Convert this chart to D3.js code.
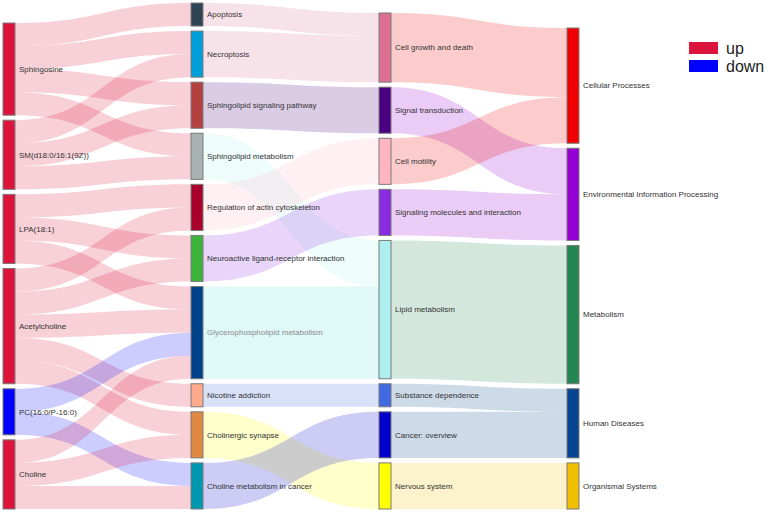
<!DOCTYPE html>
<html><head><meta charset="utf-8">
<script src="https://cdn.jsdelivr.net/npm/d3@7"></script>
<style>body{margin:0;background:#fff}svg{display:block}</style>
</head><body>
<svg id="chart" width="767" height="513"></svg>
<script>
// ---------- data ----------
const metabolites = ["Sphingosine","SM(d18:0/16:1(9Z))","LPA(18:1)","Acetylcholine","PC(16:0/P-16:0)","Choline"];
const regulation = ["up","up","up","up","down","up"];
const pathways = ["Apoptosis","Necroptosis","Sphingolipid signaling pathway","Sphingolipid metabolism","Regulation of actin cytoskeleton","Neuroactive ligand-receptor interaction","Glycerophospholipid metabolism","Nicotine addiction","Cholinergic synapse","Choline metabolism in cancer"];
const subcategories = ["Cell growth and death","Signal transduction","Cell motility","Signaling molecules and interaction","Lipid metabolism","Substance dependence","Cancer: overview","Nervous system"];
const categories = ["Cellular Processes","Environmental Information Processing","Metabolism","Human Diseases","Organismal Systems"];
const legendLabels = ["up","down"];

const metaboliteLinks = [
 ["Sphingosine","Apoptosis",1],["Sphingosine","Necroptosis",1],["Sphingosine","Sphingolipid signaling pathway",1],["Sphingosine","Sphingolipid metabolism",1],
 ["SM(d18:0/16:1(9Z))","Necroptosis",1],["SM(d18:0/16:1(9Z))","Sphingolipid signaling pathway",1],["SM(d18:0/16:1(9Z))","Sphingolipid metabolism",1],
 ["LPA(18:1)","Regulation of actin cytoskeleton",1],["LPA(18:1)","Neuroactive ligand-receptor interaction",1],["LPA(18:1)","Glycerophospholipid metabolism",1],
 ["Acetylcholine","Regulation of actin cytoskeleton",1],["Acetylcholine","Neuroactive ligand-receptor interaction",1],["Acetylcholine","Glycerophospholipid metabolism",1],["Acetylcholine","Nicotine addiction",1],["Acetylcholine","Cholinergic synapse",1],
 ["PC(16:0/P-16:0)","Glycerophospholipid metabolism",1],["PC(16:0/P-16:0)","Choline metabolism in cancer",1],
 ["Choline","Glycerophospholipid metabolism",1],["Choline","Cholinergic synapse",1],["Choline","Choline metabolism in cancer",1]
];
const pathwayLinks = [
 ["Apoptosis","Cell growth and death",1],["Necroptosis","Cell growth and death",2],
 ["Sphingolipid signaling pathway","Signal transduction",2],["Sphingolipid metabolism","Lipid metabolism",2],
 ["Regulation of actin cytoskeleton","Cell motility",2],["Neuroactive ligand-receptor interaction","Signaling molecules and interaction",2],
 ["Glycerophospholipid metabolism","Lipid metabolism",4],["Nicotine addiction","Substance dependence",1],
 ["Cholinergic synapse","Nervous system",2],["Choline metabolism in cancer","Cancer: overview",2]
];
const subcategoryLinks = [
 ["Cell growth and death","Cellular Processes",3],["Signal transduction","Environmental Information Processing",2],
 ["Cell motility","Cellular Processes",2],["Signaling molecules and interaction","Environmental Information Processing",2],
 ["Lipid metabolism","Metabolism",6],["Substance dependence","Human Diseases",1],
 ["Cancer: overview","Human Diseases",2],["Nervous system","Organismal Systems",2]
];

// ---------- styles ----------
const regColor = {up:"#DC143C", down:"#0000FF"};
const nodeColor = {
 "Apoptosis":"#2F4554","Necroptosis":"#009FDB","Sphingolipid signaling pathway":"#B3413F","Sphingolipid metabolism":"#A9B2B2",
 "Regulation of actin cytoskeleton":"#A8002A","Neuroactive ligand-receptor interaction":"#3CB43C","Glycerophospholipid metabolism":"#00428A",
 "Nicotine addiction":"#FFAA8A","Cholinergic synapse":"#DE8A43","Choline metabolism in cancer":"#0098AF",
 "Cell growth and death":"#DB7093","Signal transduction":"#4B0082","Cell motility":"#FFB6C1","Signaling molecules and interaction":"#8A2BE2",
 "Lipid metabolism":"#AFEEEE","Substance dependence":"#4169E1","Cancer: overview":"#0000CD","Nervous system":"#FFFF00",
 "Cellular Processes":"#F00000","Environmental Information Processing":"#9400D3","Metabolism":"#248751","Human Diseases":"#03458E","Organismal Systems":"#F0C000"
};
metabolites.forEach((m,i)=> nodeColor[m] = regColor[regulation[i]]);

// ---------- layout ----------
const svg = d3.select("#chart");
const columns = [metabolites, pathways, subcategories, categories];
const allLinks = [
  ...metaboliteLinks.map(d=>({source:d[0],target:d[1],value:d[2],level:0})),
  ...pathwayLinks.map(d=>({source:d[0],target:d[1],value:d[2],level:1})),
  ...subcategoryLinks.map(d=>({source:d[0],target:d[1],value:d[2],level:2}))
];
const nodes = {};
columns.forEach((col,ci)=>col.forEach((name,i)=>{ nodes[name] = {name, col:ci, idx:i, out:[], in:[]}; }));
allLinks.forEach(l=>{ nodes[l.source].out.push(l); nodes[l.target].in.push(l); });
Object.values(nodes).forEach(n=>{ n.value = Math.max(d3.sum(n.out,d=>d.value), d3.sum(n.in,d=>d.value)); });

const nodeW = 12, nodeGap = 5, areaTop = 3, areaBottom = 509;
const xCol = d3.scaleLinear().domain([0,3]).range([3, 567]);
const colSums = columns.map(c=>d3.sum(c,n=>nodes[n].value));
const ky = d3.min(columns.map((c,i)=>(areaBottom-areaTop-(c.length-1)*nodeGap)/colSums[i]));
const yLen = d3.scaleLinear().domain([0,1]).range([0,ky]);

columns.forEach((col,ci)=>{
  const total = yLen(colSums[ci]) + (col.length-1)*nodeGap;
  let y = areaBottom - total;
  col.forEach(name=>{
    const n = nodes[name];
    n.x0 = xCol(ci); n.x1 = n.x0 + nodeW;
    n.y0 = y; n.y1 = y + yLen(n.value);
    y = n.y1 + nodeGap;
  });
});
Object.values(nodes).forEach(n=>{
  n.out.sort((a,b)=>nodes[a.target].y0 - nodes[b.target].y0);
  n.in.sort((a,b)=>nodes[a.source].y0 - nodes[b.source].y0);
  let y = n.y0;
  n.out.forEach(l=>{ l.sy0 = y; y += yLen(l.value); l.sy1 = y; });
  y = n.y0;
  n.in.forEach(l=>{ l.ty0 = y; y += yLen(l.value); l.ty1 = y; });
});

function linkPath(l){
  const x0 = nodes[l.source].x1, x1 = nodes[l.target].x0, xm = (x0+x1)/2;
  const p = d3.path();
  p.moveTo(x0,l.sy0);
  p.bezierCurveTo(xm,l.sy0,xm,l.ty0,x1,l.ty0);
  p.lineTo(x1,l.ty1);
  p.bezierCurveTo(xm,l.ty1,xm,l.sy1,x0,l.sy1);
  p.closePath();
  return p.toString();
}

svg.append("g").selectAll("path").data(allLinks).join("path")
  .attr("d",linkPath)
  .attr("fill",l=> l.level===0 ? nodeColor[l.source] : nodeColor[l.target])
  .attr("fill-opacity",l=> (l.source==="Glycerophospholipid metabolism") ? 0.4 : 0.2);

const nodeArr = Object.values(nodes);
svg.append("g").selectAll("rect").data(nodeArr).join("rect")
  .attr("x",n=>n.x0).attr("y",n=>n.y0)
  .attr("width",nodeW).attr("height",n=>n.y1-n.y0)
  .attr("fill",n=>nodeColor[n.name])
  .attr("stroke","#7a7a7a").attr("stroke-width",1);

svg.append("g").selectAll("text").data(nodeArr).join("text")
  .attr("x",n=>n.x1+4).attr("y",n=>(n.y0+n.y1)/2)
  .attr("dy","0.35em")
  .attr("font-family","'Liberation Sans', Arial, sans-serif")
  .attr("font-size",8)
  .attr("fill",n=> n.name==="Glycerophospholipid metabolism" ? "#8c8c8c" : "#333")
  .text(n=>n.name);

// legend
const lg = svg.append("g");
legendLabels.forEach((lab,i)=>{
  lg.append("rect").attr("x",689).attr("y",42+i*18).attr("width",29).attr("height",12).attr("fill",regColor[lab]);
  lg.append("text").attr("x",726).attr("y",54+i*18)
    .attr("font-family","'Liberation Sans', Arial, sans-serif").attr("font-size",16).attr("fill","#222").text(lab);
});
</script>
</body></html>
